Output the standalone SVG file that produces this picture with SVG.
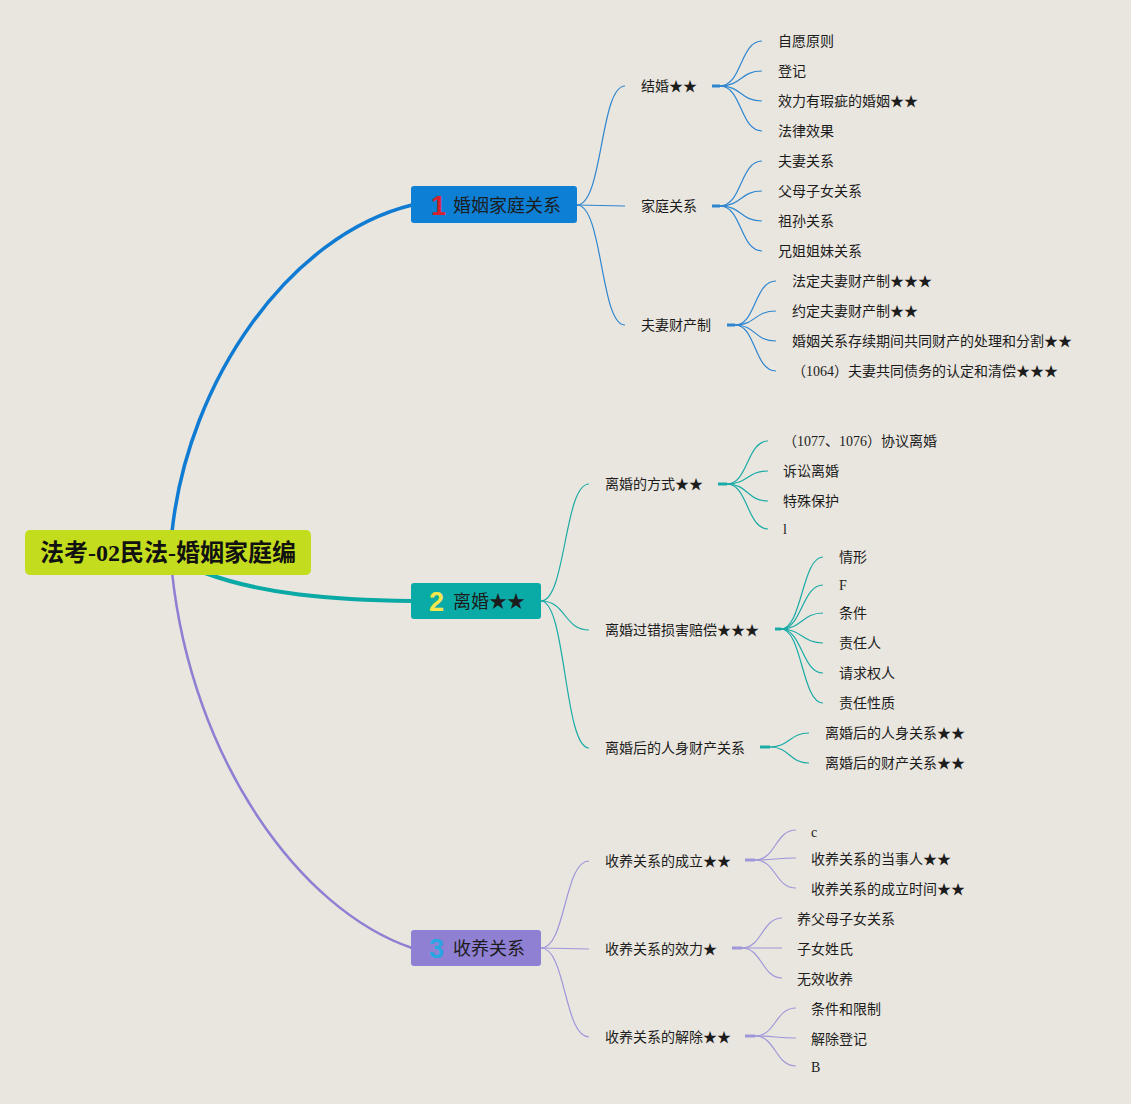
<svg xmlns="http://www.w3.org/2000/svg" width="1131" height="1104" viewBox="0 0 1131 1104">
<style>
text{font-family:"Liberation Serif","Noto Sans CJK SC",serif;fill:#1c1c1c;dominant-baseline:central}
.t{font-size:14px}
.b{font-size:18px}
.num{font-family:"Liberation Sans","Noto Sans CJK SC",sans-serif;font-size:27px;font-weight:bold}
.root{font-size:24px;font-weight:bold;fill:#111}
.c1{stroke:#2f86d0;fill:none;stroke-width:1.2}
.c2{stroke:#1aaba6;fill:none;stroke-width:1.2}
.c3{stroke:#a096da;fill:none;stroke-width:1.2}
.s1{stroke:#2f86d0;stroke-width:3}
.s2{stroke:#1aaba6;stroke-width:3}
.s3{stroke:#a096da;stroke-width:3}
</style>
<rect width="1131" height="1104" fill="#e9e6df"/>
<g id="connectors">
<path d="M172,532 C188,380 290,235 412,205" fill="none" stroke="#0f7bd2" stroke-width="3.5"/>
<path d="M205,573 C262,594 330,600 412,601" fill="none" stroke="#0aa9a5" stroke-width="4"/>
<path d="M172,572 C192,760 300,910 412,948" fill="none" stroke="#8f7fd3" stroke-width="2.5"/>
<path class="c1" d="M577,205 C603,205 600,86 625,86"/>
<path class="c1" d="M577,205 L625,206"/>
<path class="c1" d="M577,205 C603,205 600,325 625,325"/>
<line class="s1" x1="712" y1="86" x2="720" y2="86"/>
<path class="c1" d="M720,86 C742,86 740,41 762,41"/>
<path class="c1" d="M720,86 C742,86 740,71 762,71"/>
<path class="c1" d="M720,86 C742,86 740,101 762,101"/>
<path class="c1" d="M720,86 C742,86 740,131 762,131"/>
<line class="s1" x1="712" y1="206" x2="720" y2="206"/>
<path class="c1" d="M720,206 C742,206 740,161 762,161"/>
<path class="c1" d="M720,206 C742,206 740,191 762,191"/>
<path class="c1" d="M720,206 C742,206 740,221 762,221"/>
<path class="c1" d="M720,206 C742,206 740,251 762,251"/>
<line class="s1" x1="727" y1="325" x2="735" y2="325"/>
<path class="c1" d="M735,325 C756,325 754,281 776,281"/>
<path class="c1" d="M735,325 C756,325 754,311 776,311"/>
<path class="c1" d="M735,325 C756,325 754,341 776,341"/>
<path class="c1" d="M735,325 C756,325 754,371 776,371"/>
<path class="c2" d="M541,601 C566,601 564,484 589,484"/>
<path class="c2" d="M541,601 C566,601 564,630 589,630"/>
<path class="c2" d="M541,601 C566,601 564,748 589,748"/>
<line class="s2" x1="718" y1="484" x2="727" y2="484"/>
<path class="c2" d="M727,484 C748,484 747,441 768,441"/>
<path class="c2" d="M727,484 C748,484 747,471 768,471"/>
<path class="c2" d="M727,484 C748,484 747,501 768,501"/>
<path class="c2" d="M727,484 C748,484 747,529 768,529"/>
<line class="s2" x1="775" y1="629" x2="781" y2="629"/>
<path class="c2" d="M781,629 C802,629 802,557 823,557"/>
<path class="c2" d="M781,629 C802,629 802,585 823,585"/>
<path class="c2" d="M781,629 C802,629 802,613 823,613"/>
<path class="c2" d="M781,629 C802,629 802,643 823,643"/>
<path class="c2" d="M781,629 C802,629 802,673 823,673"/>
<path class="c2" d="M781,629 C802,629 802,703 823,703"/>
<line class="s2" x1="760" y1="747" x2="770" y2="747"/>
<path class="c2" d="M770,747 C790,747 789,733 809,733"/>
<path class="c2" d="M770,747 C790,747 789,763 809,763"/>
<path class="c3" d="M541,948 C566,948 564,861 589,861"/>
<path class="c3" d="M541,948 L589,949"/>
<path class="c3" d="M541,948 C566,948 564,1037 589,1037"/>
<line class="s3" x1="745" y1="860" x2="755" y2="860"/>
<path class="c3" d="M755,860 C776,860 775,830 796,830"/>
<path class="c3" d="M755,860 C776,860 775,858 796,858"/>
<path class="c3" d="M755,860 C776,860 775,888 796,888"/>
<line class="s3" x1="732" y1="948" x2="742" y2="948"/>
<path class="c3" d="M742,948 C762,948 762,918 782,918"/>
<path class="c3" d="M742,948 L782,948"/>
<path class="c3" d="M742,948 C762,948 762,978 782,978"/>
<line class="s3" x1="745" y1="1036" x2="755" y2="1036"/>
<path class="c3" d="M755,1036 C776,1036 775,1008 796,1008"/>
<path class="c3" d="M755,1036 C776,1036 775,1038 796,1038"/>
<path class="c3" d="M755,1036 C776,1036 775,1066 796,1066"/>
</g>
<g id="root">
<rect x="25" y="530" width="286" height="45" rx="5" fill="#c3dd1e"/>
<text class="root" x="168" y="553" text-anchor="middle">法考-02民法-婚姻家庭编</text>
</g>
<g id="b1">
<rect x="411" y="186" width="166" height="37" rx="3" fill="#0d80d6"/>
<text class="num" x="431" y="206" style="fill:#d8202e">1</text>
<text class="b" x="453" y="206">婚姻家庭关系</text>
</g>
<g id="b2">
<rect x="411" y="583" width="130" height="36" rx="3" fill="#0aaba7"/>
<text class="num" x="429" y="602" style="fill:#f4e64c">2</text>
<text class="b" x="453" y="602">离婚★★</text>
</g>
<g id="b3">
<rect x="411" y="930" width="130" height="36" rx="3" fill="#9080d4"/>
<text class="num" x="429" y="949" style="fill:#27a6e2">3</text>
<text class="b" x="453" y="949">收养关系</text>
</g>
<g id="n1a"><text class="t" x="641" y="86">结婚★★</text></g>
<g id="n1a1"><text class="t" x="778" y="41">自愿原则</text></g>
<g id="n1a2"><text class="t" x="778" y="71">登记</text></g>
<g id="n1a3"><text class="t" x="778" y="101">效力有瑕疵的婚姻★★</text></g>
<g id="n1a4"><text class="t" x="778" y="131">法律效果</text></g>
<g id="n1b"><text class="t" x="641" y="206">家庭关系</text></g>
<g id="n1b1"><text class="t" x="778" y="161">夫妻关系</text></g>
<g id="n1b2"><text class="t" x="778" y="191">父母子女关系</text></g>
<g id="n1b3"><text class="t" x="778" y="221">祖孙关系</text></g>
<g id="n1b4"><text class="t" x="778" y="251">兄姐姐妹关系</text></g>
<g id="n1c"><text class="t" x="641" y="325">夫妻财产制</text></g>
<g id="n1c1"><text class="t" x="792" y="281">法定夫妻财产制★★★</text></g>
<g id="n1c2"><text class="t" x="792" y="311">约定夫妻财产制★★</text></g>
<g id="n1c3"><text class="t" x="792" y="341">婚姻关系存续期间共同财产的处理和分割★★</text></g>
<g id="n1c4"><text class="t" x="792" y="371">（1064）夫妻共同债务的认定和清偿★★★</text></g>
<g id="n2a"><text class="t" x="605" y="484">离婚的方式★★</text></g>
<g id="n2a1"><text class="t" x="783" y="441">（1077、1076）协议离婚</text></g>
<g id="n2a2"><text class="t" x="783" y="471">诉讼离婚</text></g>
<g id="n2a3"><text class="t" x="783" y="501">特殊保护</text></g>
<g id="n2a4"><text class="t" x="783" y="529">l</text></g>
<g id="n2b"><text class="t" x="605" y="630">离婚过错损害赔偿★★★</text></g>
<g id="n2b1"><text class="t" x="839" y="557">情形</text></g>
<g id="n2b2"><text class="t" x="839" y="585">F</text></g>
<g id="n2b3"><text class="t" x="839" y="613">条件</text></g>
<g id="n2b4"><text class="t" x="839" y="643">责任人</text></g>
<g id="n2b5"><text class="t" x="839" y="673">请求权人</text></g>
<g id="n2b6"><text class="t" x="839" y="703">责任性质</text></g>
<g id="n2c"><text class="t" x="605" y="748">离婚后的人身财产关系</text></g>
<g id="n2c1"><text class="t" x="825" y="733">离婚后的人身关系★★</text></g>
<g id="n2c2"><text class="t" x="825" y="763">离婚后的财产关系★★</text></g>
<g id="n3a"><text class="t" x="605" y="861">收养关系的成立★★</text></g>
<g id="n3a1"><text class="t" x="811" y="832">c</text></g>
<g id="n3a2"><text class="t" x="811" y="859">收养关系的当事人★★</text></g>
<g id="n3a3"><text class="t" x="811" y="889">收养关系的成立时间★★</text></g>
<g id="n3b"><text class="t" x="605" y="949">收养关系的效力★</text></g>
<g id="n3b1"><text class="t" x="797" y="919">养父母子女关系</text></g>
<g id="n3b2"><text class="t" x="797" y="949">子女姓氏</text></g>
<g id="n3b3"><text class="t" x="797" y="979">无效收养</text></g>
<g id="n3c"><text class="t" x="605" y="1037">收养关系的解除★★</text></g>
<g id="n3c1"><text class="t" x="811" y="1009">条件和限制</text></g>
<g id="n3c2"><text class="t" x="811" y="1039">解除登记</text></g>
<g id="n3c3"><text class="t" x="811" y="1067">B</text></g>
</svg>
